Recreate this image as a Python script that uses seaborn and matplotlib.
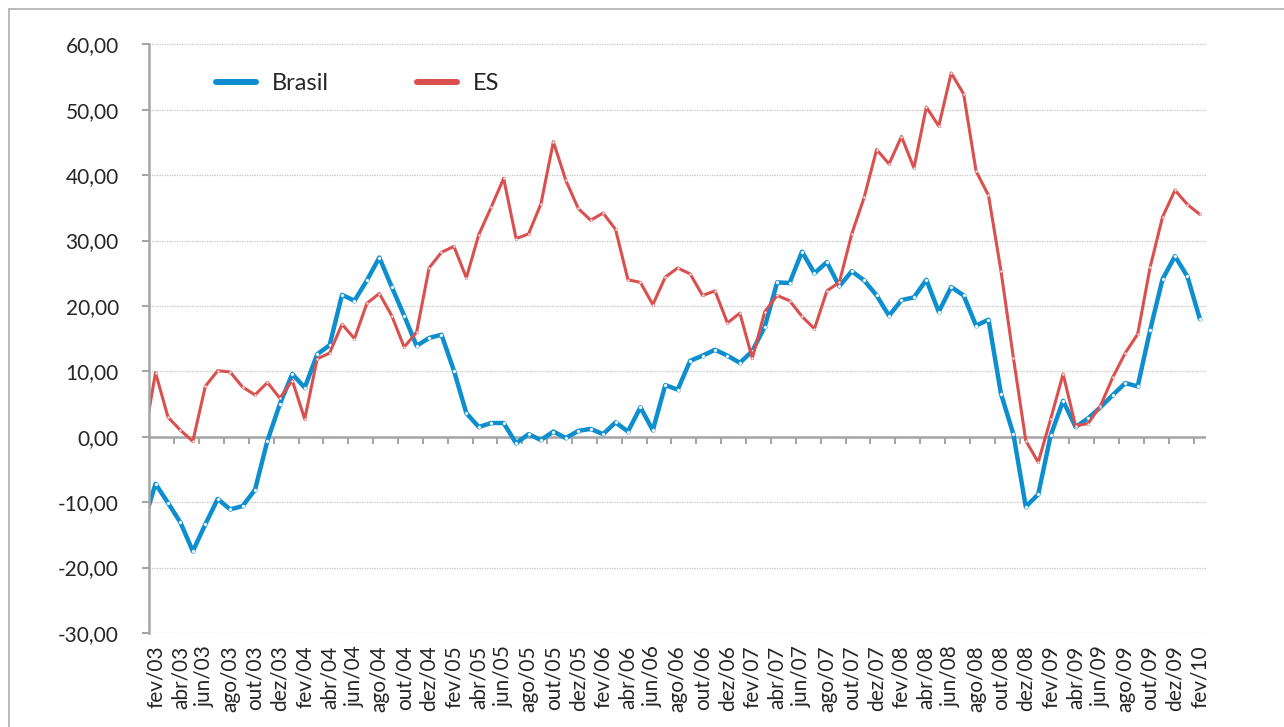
import numpy as np
import matplotlib
matplotlib.use("Agg")
import matplotlib.pyplot as plt
from matplotlib.lines import Line2D
from matplotlib.patches import Rectangle
from matplotlib.ticker import FuncFormatter
import seaborn as sns
import pandas as pd

# meses (jan/03 fica fora do eixo, so aparece o trecho ate fev/03)
meses = ['jan', 'fev', 'mar', 'abr', 'mai', 'jun', 'jul', 'ago', 'set', 'out', 'nov', 'dez']
periodos = [f"{m}/{a:02d}" for a in range(3, 11) for m in meses][:86]

brasil = [-13.4, -7.2, -10.1, -13.1, -17.5, -13.4, -9.5, -11.1, -10.6, -8.1, -0.6, 5.0,
          9.6, 7.5, 12.6, 14.0, 21.7, 20.8, 23.9, 27.4, 22.9, 18.5, 13.9, 15.1,
          15.6, 10.1, 3.6, 1.5, 2.1, 2.1, -1.0, 0.4, -0.5, 0.8, -0.2, 0.9,
          1.2, 0.4, 2.2, 0.8, 4.5, 1.0, 7.9, 7.2, 11.6, 12.4, 13.3, 12.4,
          11.3, 13.1, 16.8, 23.6, 23.5, 28.3, 25.0, 26.7, 23.0, 25.3, 23.9, 21.6,
          18.5, 20.9, 21.3, 24.0, 19.1, 22.9, 21.6, 17.0, 17.9, 6.6, 0.4, -10.7,
          -8.8, 0.2, 5.5, 1.5, 2.8, 4.5, 6.4, 8.2, 7.7, 16.3, 24.1, 27.6,
          24.5, 18.0]
es = [-1.2, 9.8, 3.0, 1.0, -0.7, 7.7, 10.1, 9.9, 7.6, 6.4, 8.3, 5.9,
      8.6, 2.7, 11.9, 12.8, 17.2, 15.0, 20.4, 21.9, 18.5, 13.7, 16.0, 25.8,
      28.2, 29.1, 24.3, 30.9, 35.1, 39.5, 30.3, 31.0, 35.6, 45.1, 39.2, 34.9,
      33.1, 34.2, 31.7, 24.0, 23.6, 20.2, 24.4, 25.8, 24.9, 21.6, 22.3, 17.4,
      18.9, 12.0, 19.1, 21.6, 20.8, 18.4, 16.5, 22.3, 23.6, 31.0, 36.6, 43.9,
      41.7, 45.9, 41.1, 50.4, 47.5, 55.6, 52.4, 40.6, 36.9, 25.4, 12.1, -0.6,
      -3.9, 2.7, 9.6, 1.7, 2.0, 4.7, 9.1, 12.8, 15.7, 25.9, 33.6, 37.7,
      35.5, 34.0]

df = pd.DataFrame({'idx': np.arange(len(periodos)), 'periodo': periodos,
                   'Brasil': brasil, 'ES': es})

azul = '#0C8ECF'
vermelho = '#D9504E'
cinza = '#A5A5A5'
texto = '#262626'

sns.set_style("white")
plt.rcParams['font.family'] = ['Lato', 'DejaVu Sans']

fig = plt.figure(figsize=(12.84, 7.27), dpi=100)
ax = fig.add_axes([0.1163, 0.1293, 0.8230, 0.8098])

sns.lineplot(data=df, x='idx', y='Brasil', ax=ax, color=azul, linewidth=3.2,
             marker='o', markersize=2.6, markerfacecolor='white',
             markeredgecolor=azul, markeredgewidth=0.3)
sns.lineplot(data=df, x='idx', y='ES', ax=ax, color=vermelho, linewidth=2.2,
             marker='o', markersize=2.0, markerfacecolor='white',
             markeredgecolor=vermelho, markeredgewidth=0.3)

ax.set_xlim(0.5, len(periodos) - 0.5)
ax.set_ylim(-30, 60)
ax.set_yticks(np.arange(-30, 61, 10))
ax.yaxis.set_major_formatter(FuncFormatter(lambda v, p: f"{v:.2f}".replace('.', ',')))
ax.set_xticks(df['idx'][1::2])
ax.set_xticklabels(df['periodo'][1::2], rotation=90)
ax.set_xlabel('')
ax.set_ylabel('')

ax.yaxis.grid(True, linestyle=(0, (1, 1)), color='#C4C4C4', linewidth=0.9)
ax.xaxis.grid(False)
for s in ['top', 'right', 'bottom']:
    ax.spines[s].set_visible(False)
ax.spines['left'].set_color(cinza)
ax.spines['left'].set_linewidth(1.8)
ax.spines['left'].set_zorder(5)

ax.tick_params(axis='y', direction='out', length=5, width=1.5, color=cinza,
               labelsize=15, labelcolor=texto, pad=17, left=True)
ax.tick_params(axis='x', length=0, labelsize=15, labelcolor=texto, pad=9)

# linha do zero com marcas entre os pares de meses
ax.axhline(0, color=cinza, linewidth=1.8, zorder=1.5)
marcas = np.arange(2.5, len(periodos) - 1, 2)
ax.plot(marcas, np.zeros(len(marcas)), ls='none', marker=3, markersize=5,
        markeredgewidth=1.5, color=cinza, zorder=1.5)

handles = [Line2D([], [], color=azul, linewidth=4.3),
           Line2D([], [], color=vermelho, linewidth=4.3)]
fig.legend(handles, ['Brasil', 'ES'], loc='center left',
           bbox_to_anchor=(216 / 1284, 1 - 84 / 727), ncol=2, frameon=False,
           fontsize=17, handlelength=1.7, handletextpad=0.68, columnspacing=3.7,
           borderpad=0, borderaxespad=0, labelcolor=texto)

fig.patches.append(Rectangle((9.3 / 1284, -0.1), 1.2, 1 - 9.3 / 727 + 0.1,
                             transform=fig.transFigure, fill=False,
                             edgecolor='#B4B4B4', linewidth=1.3))

fig.savefig('out.png', dpi=100)
